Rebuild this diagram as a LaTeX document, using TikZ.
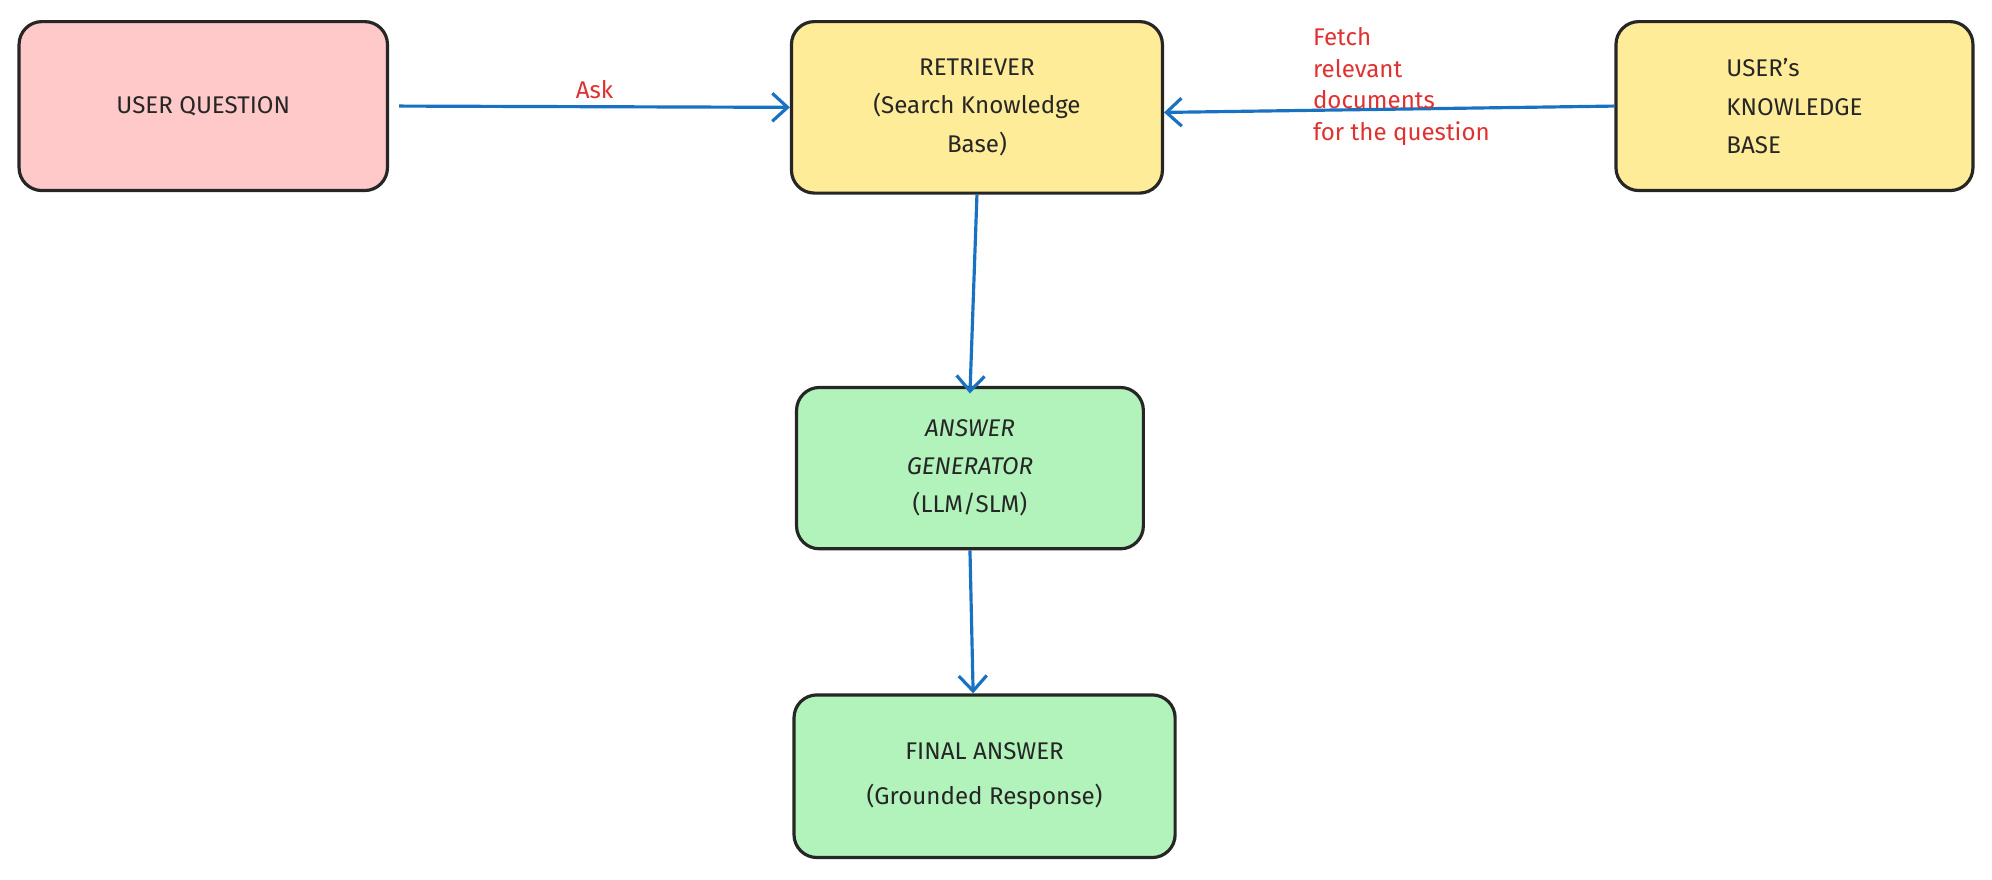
\documentclass[tikz,border=0pt]{standalone}
\usepackage{fontspec}
\setmainfont{Fira Sans}
\usetikzlibrary{arrows.meta}
\definecolor{pinkf}{HTML}{FFC9C9}
\definecolor{yelf}{HTML}{FFEC99}
\definecolor{grnf}{HTML}{B2F2BB}
\definecolor{arr}{HTML}{1971C2}
\definecolor{lab}{HTML}{E03131}
\begin{document}
\begin{tikzpicture}[x=1pt,y=-1pt,
 box/.style={draw=black!85,line width=2.5pt,rounded corners=18pt,align=center,font=\fontsize{19}{30}\selectfont,text=black!85},
 con/.style={draw=arr,line width=2.5pt,-{Straight Barb[length=12pt,width=22pt,line width=2.5pt]}},
 lbl/.style={text=lab,font=\fontsize{19}{25}\selectfont}]
\useasboundingbox (0,0) rectangle (1568,692);
\node[box,fill=pinkf,minimum width=290pt,minimum height=133pt] (uq) at (160,83.5) {USER QUESTION};
\node[box,fill=yelf,minimum width=292pt,minimum height=135pt] (ret) at (769,84.5) {RETRIEVER\\(Search Knowledge\\Base)};
\node[box,fill=yelf,minimum width=281pt,minimum height=133pt,align=left] (kb) at (1412.5,83.5) {USER's\\KNOWLEDGE\\BASE};
\node[box,fill=grnf,minimum width=273pt,minimum height=127pt] (gen) at (763.5,368.5) {\itshape ANSWER\\\itshape GENERATOR\\(LLM/SLM)};
\node[box,fill=grnf,minimum width=300pt,minimum height=128pt] (fin) at (775,611) {FINAL ANSWER\\[6pt](Grounded Response)};
\draw[con] (uq.east)++(8,0) coordinate (a1) -- (ret.west) node[midway,above,lbl,yshift=2pt] {Ask};
\draw[con] (kb.west) -- ([yshift=-4pt]ret.east);
\node[lbl,align=left,anchor=north west] (fl) at (1030,18) {Fetch\\relevant\\documents\\for the question};
\draw[con] (ret.south) -- ([yshift=-6pt]gen.north);
\draw[con] (gen.south) -- ([xshift=-9pt]fin.north);
\end{tikzpicture}
\end{document}
